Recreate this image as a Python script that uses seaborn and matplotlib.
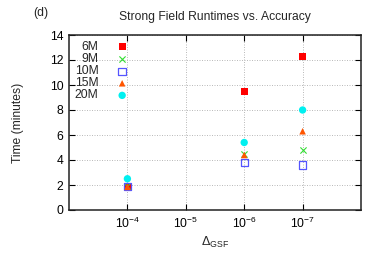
import matplotlib
matplotlib.use("Agg")
import matplotlib.pyplot as plt
import seaborn as sns
import pandas as pd

# ---- data ----
x_labels = [r"$10^{-4}$", r"$10^{-5}$", r"$10^{-6}$", r"$10^{-7}$"]
x_exp = [4, 5, 6, 7]            # tick positions = -log10(Delta)
data_exp = [4, 6, 7]            # measured accuracies
series_names = ["6M", "9M", "10M", "15M", "20M"]
t_6M = [1.9, 9.5, 12.3]
t_9M = [1.9, 4.5, 4.8]
t_10M = [1.9, 3.8, 3.6]
t_15M = [1.85, 4.4, 6.3]
t_20M = [2.5, 5.4, 8.0]
series_vals = [t_6M, t_9M, t_10M, t_15M, t_20M]
y_ticks = [0, 2, 4, 6, 8, 10, 12, 14]

sns.set_style("ticks")
plt.rcParams["font.family"] = ["Liberation Sans", "DejaVu Sans"]
plt.rcParams["mathtext.fontset"] = "custom"
plt.rcParams["mathtext.rm"] = "Liberation Sans"
plt.rcParams["mathtext.it"] = "Liberation Sans:italic"
plt.rcParams["mathtext.bf"] = "Liberation Sans:bold"
plt.rcParams["mathtext.default"] = "regular"

FS = 8.7

styles = [
    dict(marker="s", color="#ff0000", s=26, edgecolor="none"),
    dict(marker="x", color="#33dd33", s=20, linewidth=0.8),
    dict(marker="s", facecolor="none", edgecolor="#5555ff", s=28, linewidth=0.9),
    dict(marker="^", color="#ff5500", s=22, edgecolor="none"),
    dict(marker="o", color="#00f0f0", s=28, edgecolor="none"),
]

fig = plt.figure(figsize=(3.74, 2.61), dpi=100)
ax = fig.add_axes([69/374, 1-210/261, (361-69)/374, (210-35)/261])

for name, vals, st in zip(series_names, series_vals, styles):
    df = pd.DataFrame({"x": data_exp, "y": vals})
    sns.scatterplot(data=df, x="x", y="y", ax=ax, legend=False, **st)

ax.set_xlim(3, 8)
ax.set_ylim(0, 14)
ax.set_xticks(x_exp)
ax.set_xticklabels(x_labels)
ax.set_yticks(y_ticks)
ax.tick_params(direction="in", length=4, width=0.8, top=True, right=True,
               labelsize=FS, colors="black", pad=4)
ax.grid(True, color="#b0b0b0", linestyle=(0, (1.2, 1.8)), linewidth=0.6)
for sp in ax.spines.values():
    sp.set_visible(True)
    sp.set_linewidth(1.1)
    sp.set_color("#222222")

ax.set_xlabel(r"$\Delta_{GSF}$", fontsize=9)
ax.set_ylabel("Time (minutes)", fontsize=FS)
ax.yaxis.set_label_coords(-0.155, 0.5)
ax.xaxis.set_label_coords(0.5, -0.145)
ax.set_title("Strong Field Runtimes vs. Accuracy", fontsize=FS, pad=11)
fig.text(33/374, 1-13/261, "(d)", fontsize=FS, va="center", ha="left")

# gnuplot-style key: label right-aligned, marker to the right
rows_y = [0.933, 0.861, 0.793, 0.724, 0.655]
for name, st, yy in zip(series_names, styles, rows_y):
    ax.scatter([0.182], [yy], transform=ax.transAxes, clip_on=False, **st)
    ax.text(0.101, yy, name, transform=ax.transAxes, ha="right", va="center",
            fontsize=FS)

fig.savefig("out.png", dpi=100)
